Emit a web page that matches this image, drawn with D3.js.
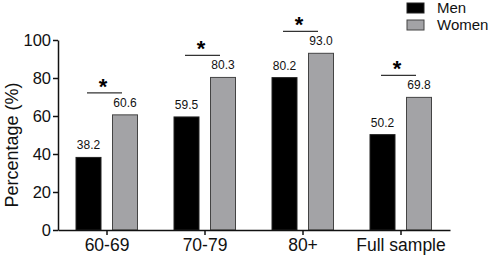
<!DOCTYPE html>
<html>
<head>
<meta charset="utf-8">
<script src="https://cdn.jsdelivr.net/npm/d3@7"></script>
<style>
  body { margin: 0; background: #fff; }
  text { font-family: "Liberation Sans", Arial, sans-serif; }
</style>
</head>
<body>
<div id="chart"></div>
<script>
// data
var groups = ["60-69", "70-79", "80+", "Full sample"];
var men = [38.2, 59.5, 80.2, 50.2];
var women = [60.6, 80.3, 93.0, 69.8];
var yTicks = [0, 20, 40, 60, 80, 100];
var series = ["Men", "Women"];

var margin = { top: 40, right: 38, bottom: 27, left: 58 },
    width = 488 - margin.left - margin.right,
    height = 257 - margin.top - margin.bottom;

var svg = d3.select("#chart")
    .append("svg")
    .attr("width", 488)
    .attr("height", 257)
    .append("g")
    .attr("transform", "translate(" + margin.left + "," + margin.top + ")");

var x = d3.scaleBand().domain(groups).range([0, width]).padding(0);
var y = d3.scaleLinear().domain([0, 100]).range([height, 0]);
var color = d3.scaleOrdinal().domain(series).range(["#000000", "#a3a3a6"]);
var stroke = d3.scaleOrdinal().domain(series).range(["#222", "#444"]);

var barW = 25;
var offset = { Men: -18.5, Women: 18 };

var rows = [];
groups.forEach(function (g, i) {
    rows.push({ group: g, key: "Men", value: men[i] });
    rows.push({ group: g, key: "Women", value: women[i] });
});

function cx(d) { return x(d.group) + x.bandwidth() / 2 + offset[d.key]; }

// bars
svg.selectAll(".bar")
    .data(rows)
    .enter()
    .append("rect")
    .attr("x", function (d) { return cx(d) - barW / 2; })
    .attr("y", function (d) { return y(d.value); })
    .attr("width", barW)
    .attr("height", function (d) { return height - y(d.value); })
    .attr("fill", function (d) { return color(d.key); })
    .attr("stroke", function (d) { return stroke(d.key); })
    .attr("stroke-width", 1);

// value labels
svg.selectAll(".val")
    .data(rows)
    .enter()
    .append("text")
    .attr("x", function (d) { return cx(d); })
    .attr("y", function (d) { return y(d.value) - 8; })
    .attr("text-anchor", "middle")
    .style("font-size", "12px")
    .style("fill", "#111")
    .text(function (d) { return d.value.toFixed(1); });

// significance markers
groups.forEach(function (g, i) {
    var top = y(women[i]) - 22;
    var c = x(g) + x.bandwidth() / 2;
    svg.append("line")
        .attr("x1", c - 20).attr("x2", c + 15)
        .attr("y1", top).attr("y2", top)
        .attr("stroke", "#333").attr("stroke-width", 1.2);
    svg.append("text")
        .attr("x", c - 4)
        .attr("y", top + 1)
        .attr("text-anchor", "middle")
        .style("font-size", "22px")
        .style("font-weight", "bold")
        .text("*");
});

// axes
var xAxis = svg.append("g")
    .attr("transform", "translate(0," + height + ")")
    .call(d3.axisBottom(x).tickSize(5).tickSizeOuter(0));
xAxis.selectAll("text").style("font-size", "17.5px").style("fill", "#111").attr("dy", "0.74em");
xAxis.selectAll("line, path").attr("stroke", "#111").attr("stroke-width", 1.5);

var yAxis = svg.append("g")
    .call(d3.axisLeft(y).tickValues(yTicks).tickSize(5).tickSizeOuter(0));
yAxis.selectAll("text").style("font-size", "16.5px").style("fill", "#111").attr("x", -7);
yAxis.selectAll("line, path").attr("stroke", "#111").attr("stroke-width", 1.5);

// y label
svg.append("text")
    .attr("transform", "rotate(-90)")
    .attr("x", -105)
    .attr("y", -margin.left + 18)
    .attr("text-anchor", "middle")
    .style("font-size", "18px")
    .style("fill", "#111")
    .text("Percentage (%)");

// legend
var legend = svg.selectAll(".legend")
    .data(series)
    .enter()
    .append("g")
    .attr("transform", function (d, i) { return "translate(349," + (-37 + i * 17) + ")"; });
legend.append("rect")
    .attr("width", 17).attr("height", 10)
    .attr("fill", function (d) { return color(d); })
    .attr("stroke", function (d) { return stroke(d); });
legend.append("text")
    .attr("x", 30).attr("y", 10)
    .style("font-size", "15px")
    .style("fill", "#111")
    .text(function (d) { return d; });
</script>
</body>
</html>
